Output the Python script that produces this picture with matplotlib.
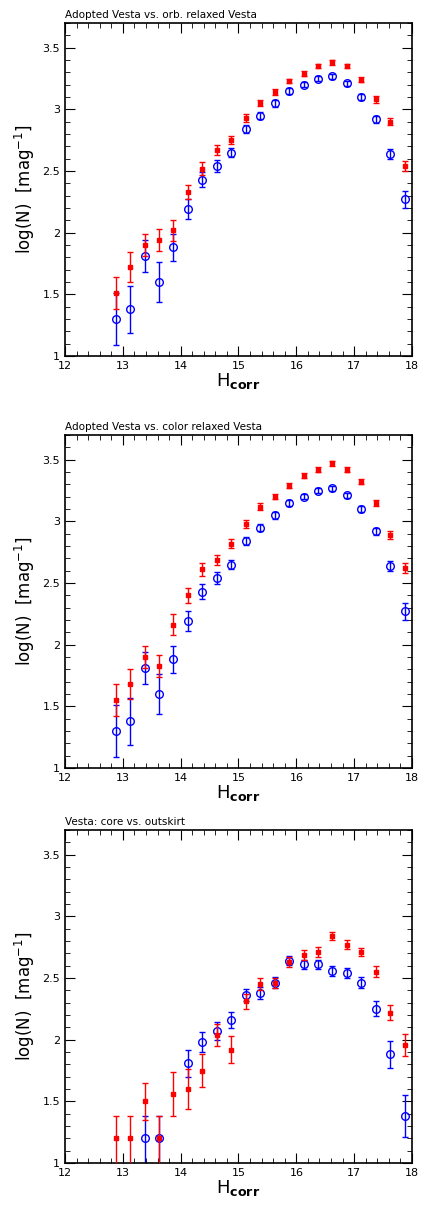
import numpy as np
import matplotlib.pyplot as plt
from matplotlib.ticker import MultipleLocator

h = np.arange(12.875, 18.0, 0.25)

titles = ["Adopted Vesta vs. orb. relaxed Vesta",
          "Adopted Vesta vs. color relaxed Vesta",
          "Vesta: core vs. outskirt"]

# panel 1 / 2 blue (adopted Vesta)
blue_12 = [1.30, 1.38, 1.81, 1.60, 1.88, 2.19, 2.43, 2.54, 2.65, 2.84, 2.95,
           3.05, 3.15, 3.20, 3.25, 3.27, 3.21, 3.10, 2.92, 2.64, 2.27]
blue_12_err = [0.21, 0.19, 0.13, 0.16, 0.11, 0.08, 0.06, 0.05, 0.04, 0.035, 0.03,
               0.028, 0.025, 0.022, 0.02, 0.02, 0.022, 0.025, 0.03, 0.04, 0.07]
red_1 = [1.51, 1.72, 1.90, 1.94, 2.02, 2.33, 2.52, 2.67, 2.75, 2.93, 3.05,
         3.14, 3.23, 3.29, 3.35, 3.38, 3.35, 3.24, 3.08, 2.90, 2.54]
red_1_err = [0.13, 0.12, 0.09, 0.09, 0.085, 0.06, 0.05, 0.04, 0.035, 0.03, 0.025,
             0.022, 0.02, 0.02, 0.018, 0.018, 0.018, 0.02, 0.025, 0.03, 0.04]
red_2 = [1.55, 1.68, 1.90, 1.83, 2.16, 2.40, 2.61, 2.69, 2.82, 2.98, 3.12,
         3.20, 3.29, 3.37, 3.42, 3.47, 3.42, 3.32, 3.15, 2.89, 2.62]
red_2_err = red_1_err

# panel 3 (NaN = empty bin)
blue_3 = [np.nan, np.nan, 1.20, 1.20, np.nan, 1.81, 1.98, 2.07, 2.16, 2.36, 2.38,
          2.46, 2.64, 2.61, 2.61, 2.56, 2.54, 2.46, 2.25, 1.88, 1.38]
blue_3_err = [0, 0, 0.18, 0.18, 0, 0.11, 0.08, 0.07, 0.065, 0.05, 0.05,
              0.045, 0.035, 0.035, 0.035, 0.04, 0.04, 0.045, 0.06, 0.11, 0.17]
red_3 = [1.20, 1.20, 1.50, 1.20, 1.56, 1.60, 1.75, 2.04, 1.92, 2.31, 2.45,
         2.46, 2.63, 2.69, 2.71, 2.84, 2.77, 2.71, 2.55, 2.22, 1.96]
red_3_err = [0.18, 0.18, 0.15, 0.18, 0.18, 0.16, 0.13, 0.09, 0.11, 0.06, 0.05,
             0.04, 0.04, 0.04, 0.04, 0.03, 0.035, 0.035, 0.045, 0.06, 0.09]

panels = [(blue_12, blue_12_err, red_1, red_1_err),
          (blue_12, blue_12_err, red_2, red_2_err),
          (blue_3, blue_3_err, red_3, red_3_err)]

fig = plt.figure(figsize=(4.24, 12.18), dpi=100)
W, H = 424, 1218
tops = [23, 435, 830]
for i, (b, be, r, re) in enumerate(panels):
    ax = fig.add_axes([65 / W, 1 - (tops[i] + 333) / H, 347 / W, 333 / H])
    # low bins have a long lower error that runs off the axis
    re_lo = [e if v > 1.25 else 0.4 for v, e in zip(r, re)]
    be_lo = [e if v > 1.25 else 0.4 for v, e in zip(b, be)]
    ax.errorbar(h, r, yerr=[re_lo, re], fmt='s', color='red', ms=3.3,
                elinewidth=1, capsize=2.5, zorder=3)
    ax.errorbar(h, b, yerr=[be_lo, be], fmt='o', mfc='none', mec='blue', color='blue',
                ms=5.5, mew=1.0, elinewidth=1, capsize=2.5, zorder=2)
    ax.set_xlim(12, 18)
    ax.set_ylim(1, 3.7)
    ax.xaxis.set_major_locator(MultipleLocator(1))
    ax.xaxis.set_minor_locator(MultipleLocator(0.2))
    ax.yaxis.set_minor_locator(MultipleLocator(0.1))
    ax.set_yticks([1, 1.5, 2, 2.5, 3, 3.5])
    ax.set_yticklabels(['1', '1.5', '2', '2.5', '3', '3.5'])
    ax.tick_params(which='both', direction='in', top=True, right=True, labelsize=8)
    ax.tick_params(which='major', length=7)
    ax.tick_params(which='minor', length=3.5)
    for s in ax.spines.values():
        s.set_linewidth(1.2)
    ax.set_xlabel('H$_{\\mathbf{corr}}$', fontsize=13, labelpad=0)
    ax.set_ylabel('log(N)  [mag$^{-1}$]', fontsize=12)
    ax.text(0.0, 1.01, titles[i], transform=ax.transAxes, fontsize=7.5,
            ha='left', va='bottom')

fig.savefig('out.png', dpi=100)
